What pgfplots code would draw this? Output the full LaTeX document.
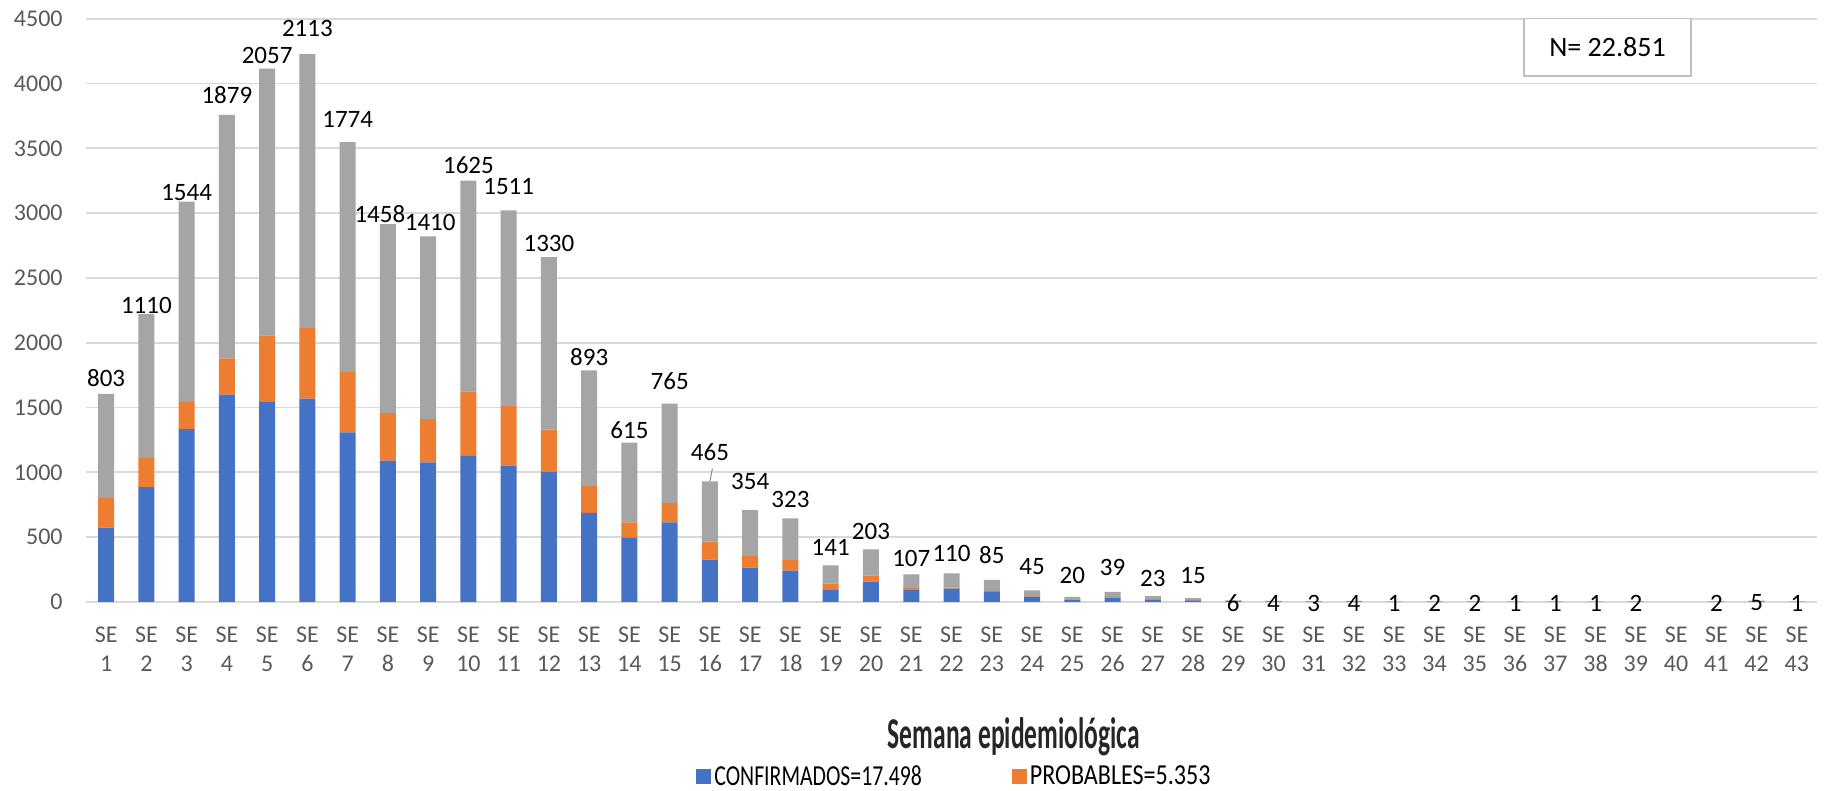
\documentclass[border=0pt]{standalone}
\usepackage{fontspec}
\setmainfont{Carlito}
\newfontfamily\legfont{Carlito}[FakeStretch=0.83]
\newfontfamily\legfontb{Carlito}[FakeStretch=0.75]
\newfontfamily\titlefont{Carlito}[FakeStretch=0.58]
\usepackage{pgfplots}
\usepackage{pgfplotstable}
\pgfplotsset{compat=1.18}
\definecolor{cblue}{HTML}{4472C4}
\definecolor{corange}{HTML}{ED7D31}
\definecolor{cgray}{HTML}{A5A5A5}
\definecolor{gridc}{HTML}{D9D9D9}
\definecolor{tickc}{HTML}{595959}
\pgfplotstableread{
x c p t lx ly
1 574 229 803 1 1729
2 886 224 1110 2 2286
3 1333 211 1544 3 3158
4 1600 279 1879 4 3914
5 1547 510 2057 5 4217
6 1569 544 2113 6 4424
7 1308 466 1774 7 3722
8 1090 368 1458 7.8 2995
9 1078 332 1410 9.05 2929
10 1128 497 1625 10 3373
11 1052 459 1511 11 3203
12 1005 325 1330 12 2768
13 687 206 893 13 1889
14 495 120 615 14 1323
15 615 150 765 15 1707
16 327 138 465 16 1159
17 265 89 354 17 929
18 242 81 323 18 790
19 98 43 141 19 419
20 157 46 203 20 542
21 98 9 107 21 337
22 104 6 110 22 372
23 82 3 85 23 365
24 41 4 45 24 271
25 18 2 20 25 205
26 33 6 39 26 265
27 19 4 23 27 183
28 13 2 15 28 205
29 6 0 6 29 -8
30 4 0 4 30 -8
31 3 0 3 31 -8
32 4 0 4 32 -8
33 1 0 1 33 -8
34 2 0 2 34 -8
35 2 0 2 35 -8
36 1 0 1 36 -8
37 1 0 1 37 -8
38 1 0 1 38 -8
39 2 0 2 39 -8
40 0 0 0 40 nan
41 2 0 2 41 -8
42 4 1 5 42 -8
43 1 0 1 43 -8
}\data
\begin{document}
\begin{tikzpicture}
\begin{axis}[
  name=ax,
  at={(0,0)}, anchor=south west,
  scale only axis,
  width=865.5pt, height=291.65pt,
  xmin=0.5, xmax=43.5,
  ymin=0, ymax=4500,
  ybar stacked,
  bar width=8pt,
  ytick={0,500,...,4500},
  xtick={1,...,43},
  xticklabels={{SE\\1},{SE\\2},{SE\\3},{SE\\4},{SE\\5},{SE\\6},{SE\\7},{SE\\8},{SE\\9},{SE\\10},{SE\\11},{SE\\12},{SE\\13},{SE\\14},{SE\\15},{SE\\16},{SE\\17},{SE\\18},{SE\\19},{SE\\20},{SE\\21},{SE\\22},{SE\\23},{SE\\24},{SE\\25},{SE\\26},{SE\\27},{SE\\28},{SE\\29},{SE\\30},{SE\\31},{SE\\32},{SE\\33},{SE\\34},{SE\\35},{SE\\36},{SE\\37},{SE\\38},{SE\\39},{SE\\40},{SE\\41},{SE\\42},{SE\\43}},
  /pgf/number format/assume math mode=true,
  /pgf/number format/1000 sep={},
  yticklabel style={font=\fontsize{12}{14}\selectfont, text=tickc, inner sep=0pt, xshift=-11.5pt},
  xticklabel style={font=\fontsize{12}{14.5}\selectfont, text=tickc, inner sep=0pt, yshift=-12.5pt, align=center, anchor=north},
  axis line style={draw=none},
  tick style={draw=none},
  ymajorgrids,
  major grid style={draw=gridc, line width=0.9pt},
  xlabel={\titlefont\bfseries Semana epidemiológica},
  xlabel style={at={(axis description cs:0.536,-0.252)}, anchor=base, font=\fontsize{22}{24}\selectfont, text=black!85},
  legend style={at={(0.502,-0.300)}, anchor=center, draw=none, legend columns=2,
    font=\legfont\fontsize{14.5}{16}\selectfont,
    nodes={inner sep=1.5pt}},
  legend cell align=left,
  legend image code/.code={\fill[#1] (0pt,-3.75pt) rectangle (7.5pt,3.75pt);},
]
\addplot[fill=cblue, draw=none] table[x=x, y=c] {\data};
\addplot[fill=corange, draw=none] table[x=x, y=p] {\data};
\addplot[fill=cgray, draw=none] table[x=x, y=t] {\data};
\legend{{\legfontb CONFIRMADOS=17.498}\hspace*{43.5pt}\mbox{}, PROBABLES=5.353}
\coordinate (O) at (rel axis cs:0,0);
\coordinate (T) at (rel axis cs:1,1);
\node[draw=black!25, line width=0.6pt, fill=white, minimum width=83.5pt, minimum height=29pt, font=\fontsize{14}{16}\selectfont, inner sep=0pt] at (axis description cs:0.879,0.9515) {N= 22.851};
\end{axis}
\begin{axis}[
  at={(ax.south west)}, anchor=south west,
  scale only axis,
  width=865.5pt, height=291.65pt,
  xmin=0.5, xmax=43.5,
  ymin=0, ymax=4500,
  hide axis, clip=false,
  unbounded coords=discard,
]
\addplot[draw=none, mark=none, nodes near coords, point meta=explicit symbolic,
  every node near coord/.style={anchor=center, inner sep=0pt, font=\fontsize{12.5}{14}\selectfont, text=black}]
  table[x=lx, y=ly, meta=t] {\data};
\addplot[draw=black!45, line width=0.5pt, mark=none] coordinates {(16.06,1030) (16.0,930)};
\end{axis}
\pgfresetboundingbox
\path[use as bounding box] ([xshift=-43pt,yshift=-94.5pt]O) rectangle ([xshift=6pt,yshift=9.35pt]T);
\end{tikzpicture}
\end{document}
